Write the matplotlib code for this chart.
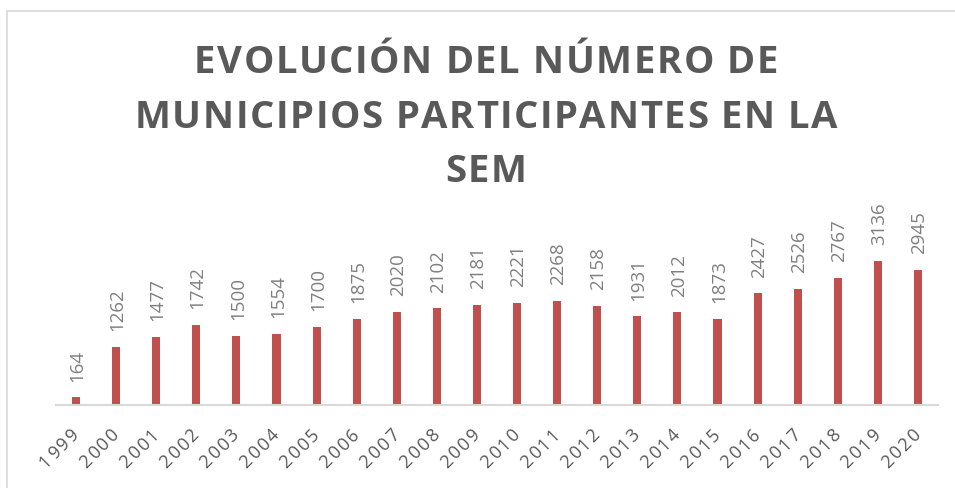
import numpy as np
import matplotlib
matplotlib.use("Agg")
import matplotlib.pyplot as plt
from matplotlib.patches import Rectangle
from matplotlib.font_manager import FontProperties, findfont
from matplotlib.ft2font import FT2Font

years = ["1999", "2000", "2001", "2002", "2003", "2004", "2005", "2006",
         "2007", "2008", "2009", "2010", "2011", "2012", "2013", "2014",
         "2015", "2016", "2017", "2018", "2019", "2020"]
municipios = [164, 1262, 1477, 1742, 1500, 1554, 1700, 1875, 2020, 2102,
              2181, 2221, 2268, 2158, 1931, 2012, 1873, 2427, 2526, 2767,
              3136, 2945]
title_lines = ["EVOLUCIÓN DEL NÚMERO DE",
               "MUNICIPIOS PARTICIPANTES EN LA",
               "SEM"]

W, H, DPI = 955, 489, 100
PT = 72.0 / DPI  # points per pixel
bar_color = "#C0504D"
title_color = "#595959"
label_color = "#7F7F7F"
tick_color = "#595959"
axis_color = "#D9D9D9"
FONT = "Open Sans"


def advances(s, size, weight="normal"):
    ft = FT2Font(findfont(FontProperties(family=FONT, weight=weight)))
    ft.set_size(size, DPI)
    return [ft.load_char(ord(c)).linearHoriAdvance / 65536.0 for c in s]


fig = plt.figure(figsize=(W / DPI, H / DPI), dpi=DPI)

# light frame around the chart (runs off the right and bottom edges)
fig.patches.append(Rectangle((7 / W, -0.5), 2.0, (H - 12) / H + 0.5,
                             transform=fig.transFigure, fill=False,
                             edgecolor=axis_color, linewidth=1.2))

# plot area
ax_left, ax_right = 56, 938
ax_base, ax_top = 406, 245
ax = fig.add_axes([ax_left / W, (H - ax_base) / H,
                   (ax_right - ax_left) / W, (ax_base - ax_top) / H])
ax.patch.set_visible(False)

x = np.arange(len(years))
ax.bar(x, municipios, width=0.2, color=bar_color)
ax.set_xlim(-0.5, len(years) - 0.5)
ax.set_ylim(0, 3500)

for xi, v in zip(x, municipios):
    ax.annotate(str(v), (xi, v), xytext=(1, 12), textcoords="offset points",
                rotation=90, ha="center", va="bottom", fontsize=13.5,
                color=label_color, family=FONT)

ax.set_xticks(x)
ax.set_xticklabels([])
ax.tick_params(axis="x", length=0)
ax.set_yticks([])
for s in ["top", "right", "left"]:
    ax.spines[s].set_visible(False)
ax.spines["bottom"].set_color(axis_color)
ax.spines["bottom"].set_linewidth(1.5)

# year labels at 45 degrees, letter-spaced, drawn char by char
tick_size = 13
tick_gap = 2.2       # px between characters
end_drop = 26.0      # px below the axis where each label ends
c45 = np.cos(np.radians(45))
for xi, lab in zip(x, years):
    adv = advances(lab, tick_size)
    total = sum(adv) + tick_gap * (len(lab) - 1)
    pos = -total
    for c, a in zip(lab, adv):
        ax.annotate(c, (xi, 0), xycoords=("data", "axes fraction"),
                    xytext=(pos * c45 * PT, (-end_drop + pos * c45) * PT),
                    textcoords="offset points", rotation=45,
                    rotation_mode="anchor", ha="left", va="center",
                    fontsize=tick_size, color=tick_color, family=FONT,
                    annotation_clip=False)
        pos += a + tick_gap

# title with wide letter spacing, placed char by char
tsize = 27.5
target_w = 703.0
adv2 = advances(title_lines[1], tsize, "bold")
spacing = (target_w - sum(adv2)) / (len(title_lines[1]) - 1)

baselines = [73, 128, 182]
center_x = 486
for line, yb in zip(title_lines, baselines):
    adv = advances(line, tsize, "bold")
    total = sum(adv) + spacing * (len(line) - 1)
    xp = center_x - total / 2
    for c, a in zip(line, adv):
        if c != " ":
            fig.text(xp / W, (H - yb) / H, c, ha="left", va="baseline",
                     fontsize=tsize, fontweight="bold", family=FONT,
                     color=title_color)
        xp += a + spacing

fig.savefig("out.png", dpi=DPI)
